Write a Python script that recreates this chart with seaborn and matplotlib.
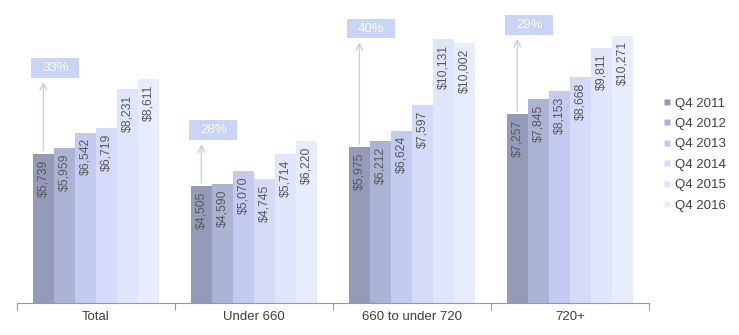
import matplotlib
matplotlib.use("Agg")
import matplotlib.pyplot as plt
import seaborn as sns
import pandas as pd
from matplotlib.lines import Line2D

categories = ["Total", "Under 660", "660 to under 720", "720+"]
years = ["Q4 2011", "Q4 2012", "Q4 2013", "Q4 2014", "Q4 2015", "Q4 2016"]
values = {
    "Q4 2011": [5739, 4505, 5975, 7257],
    "Q4 2012": [5959, 4590, 6212, 7845],
    "Q4 2013": [6542, 5070, 6624, 8153],
    "Q4 2014": [6719, 4745, 7597, 8668],
    "Q4 2015": [8231, 5714, 10131, 9811],
    "Q4 2016": [8611, 6220, 10002, 10271],
}
growth = ["33%", "28%", "40%", "29%"]
colors = ["#939bb8", "#abb4d4", "#c3ccf0", "#d4dbf8", "#dfe5fb", "#e8edfd"]

rows = []
for y in years:
    for c, v in zip(categories, values[y]):
        rows.append({"cat": c, "year": y, "val": v})
df = pd.DataFrame(rows)

sns.set_style("white")
plt.rcParams["font.family"] = ["Liberation Sans", "DejaVu Sans"]

fig = plt.figure(figsize=(7.39, 3.35), dpi=100)
ax = fig.add_axes([17 / 739, 1 - 303 / 335, (649 - 17) / 739, 302 / 335])

sns.barplot(data=df, x="cat", y="val", hue="year", order=categories,
            hue_order=years, palette=colors, width=0.8, saturation=1,
            edgecolor="none", linewidth=0, legend=False, ax=ax)

ax.set_ylim(0, 11600)
ax.set_xlim(-0.5, 3.5)

# value labels
for cont in ax.containers:
    for bar in cont:
        h = bar.get_height()
        x = bar.get_x() + bar.get_width() / 2
        ax.annotate(f"${h:,.0f}", (x, h), xytext=(0, -4), textcoords="offset points",
                    rotation=90, ha="center", va="top", fontsize=8.8, color="#595959")

# growth arrows and boxes
bw = 0.8 / 6
for i, g in enumerate(growth):
    first = values[years[0]][i]
    mx = max(values[y][i] for y in years)
    x0 = i - 0.4 + bw / 2
    ax.annotate("", xy=(x0, mx - 120), xytext=(x0, first + 120),
                arrowprops=dict(arrowstyle="->", color="#c5d0f4", lw=1.0,
                                mutation_scale=12, shrinkA=0, shrinkB=0))
    ax.add_patch(plt.Rectangle((i - 0.41, mx + 30), 0.305, 760, facecolor="#c9d5f8",
                               edgecolor="none", clip_on=False))
    ax.text(i - 0.41 + 0.1525, mx + 30 + 380, g, ha="center", va="center",
            fontsize=9.5, color="white")

# axes styling
for s in ["top", "right", "left"]:
    ax.spines[s].set_visible(False)
ax.spines["bottom"].set_color("#999999")
ax.set_yticks([])
ax.set_ylabel("")
ax.set_xlabel("")
ax.set_xticks([-0.5, 0.5, 1.5, 2.5, 3.5])
ax.set_xticklabels([])
ax.tick_params(axis="x", which="major", length=5, color="#999999", direction="out", bottom=True)
ax.set_xticks(range(4), minor=True)
ax.set_xticklabels(categories, minor=True, fontsize=9.5, color="#404040")
ax.tick_params(axis="x", which="minor", length=0, pad=6)

handles = [Line2D([0], [0], marker="s", linestyle="none", markersize=5,
                  markerfacecolor=c, markeredgecolor="none") for c in colors]
fig.legend(handles, years, loc="upper left", bbox_to_anchor=(658 / 739, 1 - 92 / 335),
           frameon=False, fontsize=9.5, handlelength=0.6, handletextpad=0.3,
           labelspacing=0.62, borderaxespad=0, labelcolor="#404040")

fig.savefig("out.png", dpi=100)
